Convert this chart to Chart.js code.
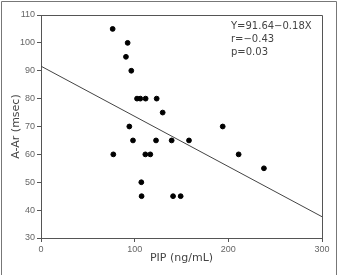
<!DOCTYPE html>
<html>
<head>
<meta charset="utf-8">
<script src="https://cdn.jsdelivr.net/npm/chart.js@4/dist/chart.umd.min.js"></script>
<style>
html,body{margin:0;padding:0;background:#fff;}
#wrap{width:341px;height:275px;position:relative;}
</style>
</head>
<body>
<div id="wrap"><canvas id="c" width="341" height="275"></canvas></div>
<script>
// PIP (ng/mL) values
const pipValues = [76.5, 92.5, 90.7, 96.4, 102.5, 106, 111.7, 123.5, 129.9, 94.3, 98.2, 122.8, 139.5, 158, 77.2, 111.4, 116.7, 107.1, 107.4, 141, 149.1, 194, 211, 238];
// A-Ar (msec) values
const aArValues = [105, 100, 95, 90, 80, 80, 80, 80, 75, 70, 65, 65, 65, 65, 60, 60, 60, 50, 45, 45, 45, 70, 60, 55];
// Regression: Y = 91.64 - 0.18X
const fitIntercept = 91.64;
const fitSlope = -0.18;
const fitRange = [0, 300];
const xTicks = [0, 100, 200, 300];
const yTicks = [30, 40, 50, 60, 70, 80, 90, 100, 110];
const annotationLines = ["Y=91.64\u22120.18X", "r=\u22120.43", "p=0.03"];

const scatterData = pipValues.map((x, i) => ({x: x, y: aArValues[i]}));
const fitData = fitRange.map(x => ({x: x, y: fitIntercept + fitSlope * x}));

const frameColor = '#555';
const tickColor = '#666';

const framePlugin = {
  id: 'frame',
  beforeDraw(chart) {
    const ctx = chart.ctx;
    ctx.save();
    ctx.fillStyle = '#fff';
    ctx.fillRect(0, 0, chart.width, chart.height);
    ctx.strokeStyle = '#777';
    ctx.lineWidth = 1;
    ctx.beginPath();
    ctx.moveTo(1.5, chart.height + 2);
    ctx.lineTo(1.5, 1.5);
    ctx.lineTo(336.5, 1.5);
    ctx.lineTo(336.5, chart.height + 2);
    ctx.stroke();
    ctx.restore();
  },
  afterDraw(chart) {
    const a = chart.chartArea;
    const ctx = chart.ctx;
    ctx.save();
    ctx.strokeStyle = frameColor;
    ctx.lineWidth = 1;
    ctx.beginPath();
    ctx.moveTo(a.left, a.top + 0.5);
    ctx.lineTo(a.right + 0.5, a.top + 0.5);
    ctx.lineTo(a.right + 0.5, a.bottom);
    ctx.stroke();
    ctx.fillStyle = '#444';
    ctx.font = '10px "DejaVu Sans"';
    ctx.textBaseline = 'middle';
    ctx.textAlign = 'left';
    annotationLines.forEach((t, i) => {
      ctx.fillText(t, a.left + 190, a.top + 11 + i * 13);
    });
    ctx.restore();
  }
};

new Chart(document.getElementById('c'), {
  data: {
    datasets: [
      {
        type: 'scatter',
        data: scatterData,
        backgroundColor: '#000',
        borderColor: '#000',
        pointRadius: 2.4,
        pointHoverRadius: 2.4,
        order: 1
      },
      {
        type: 'line',
        data: fitData,
        borderColor: '#444',
        borderWidth: 1,
        pointRadius: 0,
        fill: false,
        order: 2
      }
    ]
  },
  options: {
    responsive: false,
    animation: false,
    events: [],
    layout: {padding: {left: 0, top: 15, right: 19, bottom: 0}},
    plugins: {legend: {display: false}, tooltip: {enabled: false}},
    scales: {
      x: {
        type: 'linear',
        min: 0, max: 300,
        afterBuildTicks: s => { s.ticks = xTicks.map(v => ({value: v})); },
        afterFit: s => { s.height = 37; },
        ticks: {color: tickColor, font: {family: 'Liberation Sans', size: 9}, padding: 2, maxRotation: 0},
        grid: {display: true, drawOnChartArea: false, drawTicks: true, tickLength: 4, color: frameColor, tickColor: frameColor},
        border: {display: true, color: frameColor, width: 1},
        title: {display: true, text: 'PIP (ng/mL)', color: '#444', font: {family: 'DejaVu Sans', size: 11}, padding: {top: 0, bottom: 10}}
      },
      y: {
        type: 'linear',
        min: 30, max: 110,
        afterBuildTicks: s => { s.ticks = yTicks.map(v => ({value: v})); },
        afterFit: s => { s.width = 41; },
        ticks: {color: tickColor, font: {family: 'Liberation Sans', size: 9}, padding: 2},
        grid: {display: true, drawOnChartArea: false, drawTicks: true, tickLength: 4, color: frameColor, tickColor: frameColor},
        border: {display: true, color: frameColor, width: 1},
        title: {display: true, text: 'A-Ar (msec)', color: '#444', font: {family: 'DejaVu Sans', size: 11}, padding: {top: 10, bottom: 0}}
      }
    }
  },
  plugins: [framePlugin]
});
</script>
</body>
</html>
